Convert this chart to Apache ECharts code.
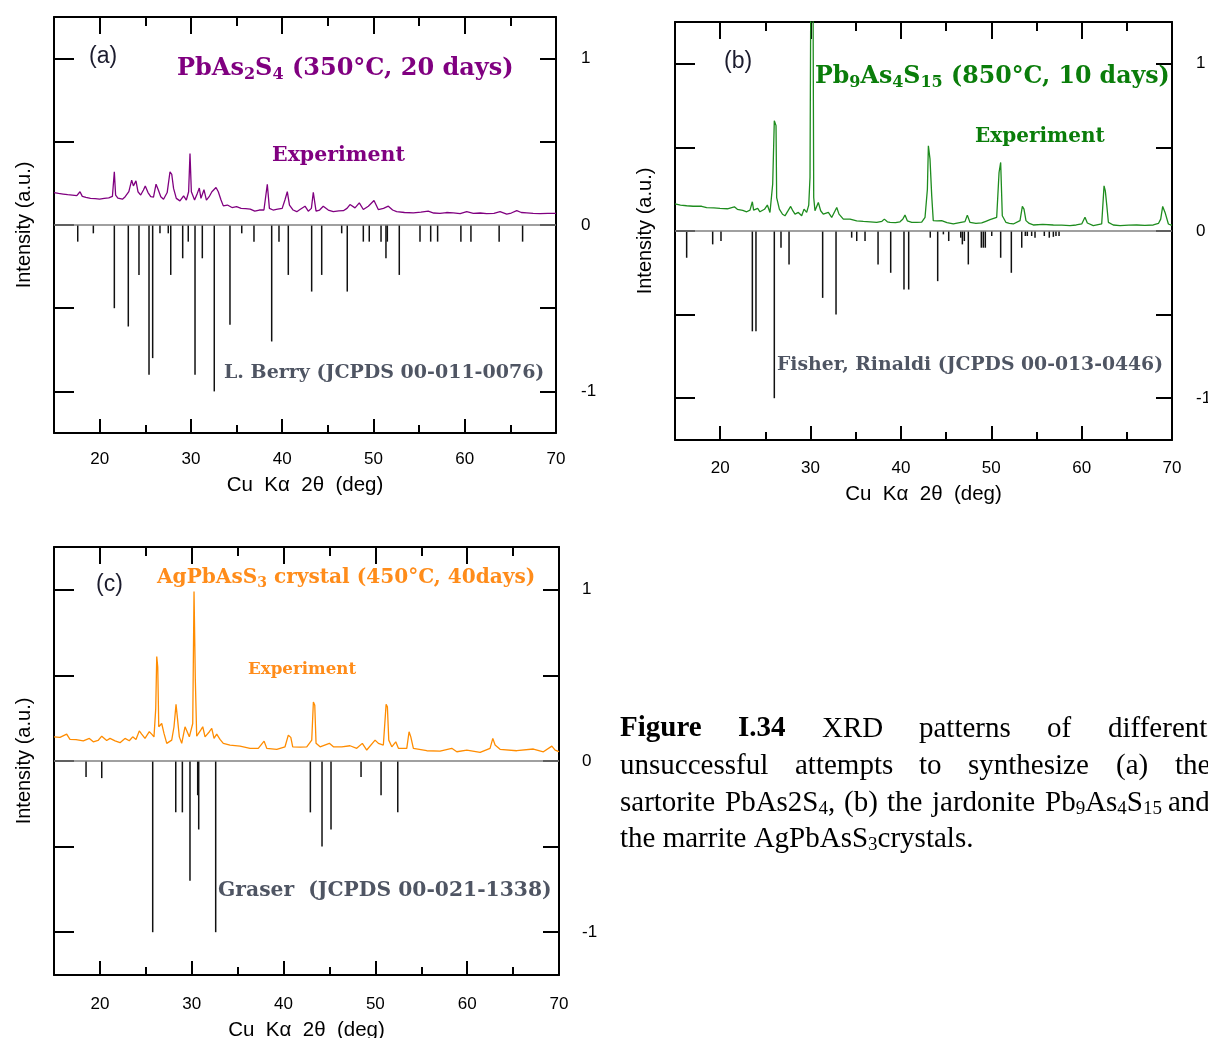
<!DOCTYPE html>
<html><head><meta charset="utf-8">
<script src="https://cdn.jsdelivr.net/npm/echarts@6/dist/echarts.min.js"></script>
<style>html,body{margin:0;padding:0;background:#fff}#c{width:1208px;height:1038px}</style>
</head><body><div id="c"></div>
<script>
// ---------- tick values ----------
const xMajorTicks = [20, 30, 40, 50, 60, 70];
const xMinorTicks = [25, 35, 45, 55, 65];
const yTicks = [-1, -0.5, 0, 0.5, 1];
const yTickLabels = [-1, 0, 1];

// ---------- panel (a) PbAs2S4 ----------
const aExpX = [15.0,15.5,16.0,16.5,17.0,17.5,17.85,18.1,18.5,19.0,19.5,20.0,20.5,21.0,21.4,21.61,21.75,22.0,22.5,22.8,23.2,23.51,23.7,23.98,24.2,24.5,24.8,25.0,25.3,25.6,25.9,26.18,26.4,26.7,27.0,27.4,27.71,27.9,28.1,28.4,28.8,29.2,29.5,29.75,29.9,30.05,30.4,30.7,30.92,31.1,31.43,31.7,32.0,32.3,32.75,33.0,33.3,33.55,34.0,34.5,35.0,35.5,36.0,36.5,37.0,37.5,38.0,38.37,38.6,39.0,39.5,40.0,40.3,40.56,40.8,41.2,41.6,41.95,42.5,42.86,43.2,43.41,43.71,44.1,44.5,45.05,45.6,46.2,46.7,47.1,47.43,47.98,48.45,48.89,49.44,50.06,50.53,51.1,51.63,52.1,52.54,53.4,54.37,55.2,56.0,56.6,57.29,58.0,58.75,59.5,60.22,60.94,61.7,62.4,63.2,63.87,64.6,65.1,65.7,66.2,66.8,67.5,68.25,69.1,70.0];
const aExpY = [0.195,0.19,0.186,0.182,0.18,0.176,0.2,0.172,0.166,0.16,0.158,0.155,0.16,0.163,0.172,0.32,0.18,0.162,0.155,0.17,0.2,0.27,0.235,0.265,0.2,0.18,0.21,0.235,0.195,0.17,0.168,0.245,0.215,0.17,0.155,0.195,0.32,0.305,0.22,0.16,0.145,0.175,0.15,0.2,0.43,0.2,0.15,0.19,0.222,0.16,0.212,0.15,0.17,0.2,0.225,0.2,0.15,0.115,0.12,0.105,0.11,0.1,0.098,0.095,0.083,0.09,0.09,0.245,0.1,0.09,0.095,0.1,0.15,0.2,0.12,0.09,0.08,0.093,0.113,0.083,0.1,0.197,0.083,0.09,0.113,0.09,0.08,0.085,0.086,0.1,0.123,0.103,0.133,0.093,0.113,0.147,0.093,0.1,0.113,0.09,0.08,0.075,0.073,0.077,0.083,0.072,0.07,0.075,0.073,0.068,0.08,0.07,0.072,0.068,0.07,0.08,0.065,0.072,0.086,0.075,0.073,0.07,0.068,0.07,0.07];
const aRefX = [17.60,19.31,21.61,23.14,24.31,25.41,25.81,26.61,27.52,27.79,29.10,29.71,30.45,31.25,32.56,34.28,35.57,36.91,38.85,39.65,40.67,43.23,44.33,46.52,47.13,48.89,49.54,50.83,51.37,51.52,52.83,55.10,56.27,57.03,59.58,60.68,63.77,66.34];
const aRefY = [-0.10,-0.05,-0.50,-0.61,-0.30,-0.90,-0.80,-0.05,-0.05,-0.30,-0.20,-0.10,-0.90,-0.20,-1.00,-0.60,-0.05,-0.10,-0.70,-0.10,-0.30,-0.40,-0.30,-0.05,-0.40,-0.10,-0.10,-0.10,-0.20,-0.10,-0.30,-0.10,-0.10,-0.10,-0.10,-0.10,-0.10,-0.10];

// ---------- panel (b) Pb9As4S15 ----------
const bExpX = [15.0,15.19,15.6,16.29,17.0,17.95,18.5,19.3,19.98,20.8,21.57,21.9,22.5,22.93,23.3,23.56,23.7,23.85,24.15,24.4,24.59,24.9,25.22,25.51,25.81,25.99,26.18,26.25,26.55,26.9,27.17,27.5,27.8,28.05,28.28,28.65,29.02,29.28,29.57,29.8,29.94,30.02,30.28,30.35,30.49,30.86,31.12,31.41,31.97,32.34,32.9,33.15,33.63,34.37,35.11,35.84,36.6,37.32,37.9,38.17,38.5,38.8,39.4,39.9,40.2,40.45,40.71,41.2,41.75,42.3,42.67,42.93,43.04,43.22,43.41,43.58,44.0,44.51,45.1,45.8,46.5,47.09,47.35,47.65,48.3,48.94,49.4,49.86,50.6,50.86,51.04,51.22,51.63,52.0,52.44,53.18,53.44,53.62,53.84,54.2,54.65,55.7,56.87,57.8,58.71,59.4,60.01,60.37,60.63,61.29,62.22,62.48,62.62,62.78,62.96,63.5,64.25,65.2,66.1,67.0,67.93,68.5,68.75,68.97,69.23,69.6,69.86,70.0];
const bExpY = [0.162,0.161,0.155,0.151,0.148,0.148,0.14,0.138,0.135,0.133,0.145,0.13,0.123,0.115,0.125,0.175,0.125,0.121,0.135,0.115,0.111,0.13,0.155,0.111,0.28,0.66,0.63,0.2,0.131,0.1,0.091,0.12,0.147,0.12,0.101,0.111,0.091,0.131,0.111,0.155,0.32,1.35,1.35,0.2,0.121,0.171,0.121,0.101,0.111,0.081,0.141,0.101,0.071,0.071,0.061,0.057,0.055,0.051,0.058,0.071,0.055,0.051,0.05,0.055,0.07,0.095,0.061,0.052,0.051,0.053,0.082,0.25,0.51,0.43,0.21,0.062,0.06,0.062,0.05,0.042,0.05,0.056,0.095,0.051,0.045,0.048,0.058,0.068,0.082,0.35,0.41,0.091,0.051,0.045,0.042,0.062,0.147,0.131,0.062,0.045,0.036,0.04,0.036,0.035,0.032,0.036,0.042,0.082,0.048,0.032,0.042,0.27,0.24,0.155,0.052,0.036,0.032,0.035,0.036,0.034,0.036,0.045,0.071,0.147,0.111,0.042,0.036,0.036];
const bRefX = [16.29,19.17,20.09,23.56,23.96,25.99,26.73,27.62,31.34,32.82,34.55,35.11,36.03,37.47,38.87,40.34,40.86,43.25,44.07,44.70,45.29,46.62,46.80,47.02,47.46,48.90,49.12,49.34,50.05,51.04,52.22,53.37,53.77,53.99,54.47,54.84,55.87,56.42,56.87,57.16,57.50];
const bRefY = [-0.16,-0.08,-0.06,-0.60,-0.60,-1.00,-0.10,-0.20,-0.40,-0.50,-0.04,-0.06,-0.06,-0.20,-0.25,-0.35,-0.35,-0.04,-0.30,-0.02,-0.06,-0.04,-0.08,-0.06,-0.20,-0.10,-0.10,-0.10,-0.03,-0.16,-0.25,-0.10,-0.03,-0.03,-0.03,-0.04,-0.03,-0.04,-0.035,-0.03,-0.03];

// ---------- panel (c) AgPbAsS3 ----------
const cExpX = [15.0,15.65,16.38,16.74,17.4,18.19,18.85,19.28,19.8,20.2,20.74,21.1,21.65,22.19,22.73,23.2,23.57,23.93,24.29,24.55,24.91,25.38,25.64,25.89,26.08,26.19,26.3,26.41,26.73,26.98,27.28,27.82,28.07,28.29,28.43,28.65,28.91,29.27,29.46,29.74,30.11,30.25,30.39,30.54,30.98,31.2,31.45,31.92,32.18,32.43,32.72,33.08,33.44,34.17,35.26,36.35,37.25,37.88,38.17,39.26,40.16,40.52,40.79,41.0,41.8,42.53,43.07,43.25,43.4,43.54,43.98,44.99,45.43,46.34,47.24,47.97,48.58,49.06,49.97,50.33,50.87,51.17,51.31,51.46,51.79,52.22,52.51,53.42,53.67,53.86,54.14,55.6,57.05,58.32,58.87,59.96,61.41,62.49,62.79,63.04,63.58,65.4,67.21,68.3,69.22,69.58,70.0];
const cExpY = [0.141,0.138,0.157,0.126,0.125,0.118,0.132,0.112,0.12,0.145,0.12,0.132,0.118,0.107,0.132,0.118,0.141,0.126,0.176,0.157,0.132,0.171,0.157,0.141,0.306,0.61,0.548,0.2,0.219,0.161,0.103,0.122,0.2,0.331,0.258,0.141,0.103,0.2,0.209,0.141,0.219,0.99,0.48,0.145,0.18,0.2,0.141,0.171,0.19,0.132,0.157,0.126,0.103,0.093,0.087,0.074,0.074,0.116,0.074,0.068,0.083,0.151,0.138,0.083,0.081,0.083,0.122,0.345,0.326,0.103,0.083,0.103,0.083,0.083,0.089,0.074,0.103,0.064,0.122,0.103,0.093,0.331,0.316,0.122,0.083,0.112,0.074,0.074,0.171,0.141,0.074,0.06,0.058,0.074,0.054,0.064,0.05,0.074,0.132,0.093,0.068,0.06,0.07,0.054,0.087,0.064,0.055];
const cRefX = [18.49,20.20,25.75,28.26,28.98,29.81,30.65,30.76,32.61,42.92,44.19,45.17,48.44,50.62,52.44];
const cRefY = [-0.094,-0.10,-1.00,-0.30,-0.30,-0.70,-0.20,-0.40,-1.00,-0.30,-0.50,-0.40,-0.094,-0.20,-0.30];

// ---------- build ----------
function zip(xs, ys) { return xs.map((x, i) => [x, ys[i]]); }
const panels = [
  {exp: zip(aExpX, aExpY), ref: zip(aRefX, aRefY), color: '#800080', grid: {left: 54, top: 17, width: 502, height: 416}, rMargin: 25, lMargin: 18, nGap: 42},
  {exp: zip(bExpX, bExpY), ref: zip(bRefX, bRefY), color: '#1e8c1e', grid: {left: 675, top: 22, width: 497, height: 418}, rMargin: 24, lMargin: 20, nGap: 44},
  {exp: zip(cExpX, cExpY), ref: zip(cRefX, cRefY), color: '#ff8c00', grid: {left: 54, top: 547, width: 505, height: 428}, rMargin: 23, lMargin: 21, nGap: 45}
];
const black = {color: '#000', width: 2};
const sans = 'Liberation Sans';
const xAxis = [], yAxis = [], grid = [], series = [];
panels.forEach((p, i) => {
  grid.push(Object.assign({outerBoundsMode: 'none', containLabel: false}, p.grid));
  const base = {gridIndex: i, type: 'value', min: 15, max: 70, interval: 5, splitLine: {show: false}};
  xAxis.push(Object.assign({}, base, {position: 'bottom',
    axisLine: {onZero: false, lineStyle: black},
    axisTick: {inside: true, length: 14, customValues: xMajorTicks, lineStyle: black},
    axisLabel: {customValues: xMajorTicks, margin: p.lMargin, fontSize: 17, color: '#000', fontFamily: sans},
    name: 'Cu  K\u03b1  2\u03b8  (deg)', nameLocation: 'middle', nameGap: p.nGap,
    nameTextStyle: {fontSize: 20.5, color: '#000', fontFamily: sans}}));
  xAxis.push(Object.assign({}, base, {position: 'bottom',
    axisLine: {show: false, onZero: false},
    axisTick: {inside: true, length: 8, customValues: xMinorTicks, lineStyle: black},
    axisLabel: {show: false}}));
  xAxis.push(Object.assign({}, base, {position: 'top',
    axisLine: {onZero: false, lineStyle: black},
    axisTick: {inside: true, length: 17, customValues: xMajorTicks, lineStyle: black},
    axisLabel: {show: false}}));
  xAxis.push(Object.assign({}, base, {position: 'top',
    axisLine: {show: false, onZero: false},
    axisTick: {inside: true, length: 9, customValues: xMinorTicks, lineStyle: black},
    axisLabel: {show: false}}));
  const ybase = {gridIndex: i, type: 'value', min: -1.25, max: 1.25, interval: 0.25, splitLine: {show: false}};
  yAxis.push(Object.assign({}, ybase, {position: 'left',
    axisLine: {show: true, onZero: false, lineStyle: black},
    axisTick: {inside: true, length: 20, customValues: yTicks, lineStyle: black},
    axisLabel: {show: false},
    name: 'Intensity (a.u.)', nameLocation: 'middle', nameRotate: 90, nameGap: 20,
    nameTextStyle: {fontSize: 20, color: '#000', fontFamily: sans}}));
  yAxis.push(Object.assign({}, ybase, {position: 'right',
    axisLine: {show: true, onZero: false, lineStyle: black},
    axisTick: {inside: true, length: 16, customValues: yTicks, lineStyle: black},
    axisLabel: {customValues: yTickLabels, margin: p.rMargin, fontSize: 17, color: '#000', fontFamily: sans}}));
  series.push({
    type: 'custom', xAxisIndex: 4 * i, yAxisIndex: 2 * i, data: p.ref, encode: {x: 0, y: 1},
    renderItem: function (params, api) {
      const p0 = api.coord([api.value(0), 0]);
      const p1 = api.coord([api.value(0), api.value(1)]);
      return {type: 'line', shape: {x1: p0[0], y1: p0[1], x2: p1[0], y2: p1[1]}, style: {stroke: '#111', lineWidth: 1.5}};
    },
    silent: true, z: 2
  });
  series.push({
    type: 'line', xAxisIndex: 4 * i, yAxisIndex: 2 * i, data: p.exp, showSymbol: false, symbol: 'none',
    lineStyle: {color: p.color, width: 1.3}, clip: true, z: 3, silent: true,
    markLine: {silent: true, symbol: 'none', label: {show: false}, lineStyle: {color: '#808080', width: 1.5, type: 'solid'}, data: [{yAxis: 0}]}
  });
});

function txt(x, y, text, size, family, weight, fill, rich) {
  const st = {text: text, fontSize: size, fontFamily: family, fontWeight: weight, fill: fill, align: 'left', verticalAlign: 'middle'};
  if (rich) st.rich = rich;
  return {type: 'text', x: x, y: y, style: st, z: 10, silent: true};
}
function subRich(size, family, weight, fill, pad) {
  return {s: {fontSize: size, fontFamily: family, fontWeight: weight, fill: fill, verticalAlign: 'bottom', padding: [pad, 0, 0, 0]}};
}
const serif = 'DejaVu Serif';
const refGray = '#4f5563';
const cap = 'Liberation Serif';
const capRich = subRich(19, cap, 'normal', '#000', 12);
const graphic = [
  txt(89, 57, '(a)', 23, sans, 'normal', '#1c1c2e'),
  txt(177, 69, 'PbAs{s|2}S{s|4} (350\u00b0C, 20 days)', 24, serif, 'bold', '#800080', subRich(16, serif, 'bold', '#800080', 11)),
  txt(272, 156, 'Experiment', 20.5, serif, 'bold', '#800080'),
  txt(224, 373, 'L. Berry (JCPDS 00-011-0076)', 19, serif, 'bold', refGray),
  txt(724, 62, '(b)', 23, sans, 'normal', '#1c1c2e'),
  txt(815, 77, 'Pb{s|9}As{s|4}S{s|15} (850\u00b0C, 10 days)', 23.7, serif, 'bold', '#0a7d0a', subRich(16, serif, 'bold', '#0a7d0a', 11)),
  txt(975, 137, 'Experiment', 20, serif, 'bold', '#0a7d0a'),
  txt(777, 365, 'Fisher, Rinaldi (JCPDS 00-013-0446)', 18.8, serif, 'bold', refGray),
  txt(96, 585, '(c)', 23, sans, 'normal', '#1c1c2e'),
  txt(157, 578, 'AgPbAsS{s|3} crystal (450\u00b0C, 40days)', 20.1, serif, 'bold', '#ff8c1a', subRich(14, serif, 'bold', '#ff8c1a', 10)),
  txt(248, 670, 'Experiment', 16.7, serif, 'bold', '#ff8c1a'),
  txt(218, 891, 'Graser  (JCPDS 00-021-1338)', 20.3, serif, 'bold', refGray),
  // caption
  txt(620, 729, 'Figure', 29, cap, 'bold', '#000'),
  txt(738, 729, 'I.34', 29, cap, 'bold', '#000'),
  txt(822, 729, 'XRD', 29, cap, 'normal', '#000'),
  txt(919, 729, 'patterns', 29, cap, 'normal', '#000'),
  txt(1047, 729, 'of', 29, cap, 'normal', '#000'),
  txt(1108, 729, 'different', 29, cap, 'normal', '#000'),
  txt(620, 766, 'unsuccessful', 29, cap, 'normal', '#000'),
  txt(795, 766, 'attempts', 29, cap, 'normal', '#000'),
  txt(919, 766, 'to', 29, cap, 'normal', '#000'),
  txt(968, 766, 'synthesize', 29, cap, 'normal', '#000'),
  txt(1116, 766, '(a)', 29, cap, 'normal', '#000'),
  txt(1175, 766, 'the', 29, cap, 'normal', '#000'),
  txt(620, 803, 'sartorite', 29, cap, 'normal', '#000'),
  txt(725, 803, 'PbAs2S{s|4},', 29, cap, 'normal', '#000', capRich),
  txt(844, 803, '(b)', 29, cap, 'normal', '#000'),
  txt(887, 803, 'the', 29, cap, 'normal', '#000'),
  txt(932, 803, 'jardonite', 29, cap, 'normal', '#000'),
  txt(1045, 803, 'Pb{s|9}As{s|4}S{s|15}', 29, cap, 'normal', '#000', capRich),
  txt(1168, 803, 'and', 29, cap, 'normal', '#000'),
  txt(620, 839, 'the marrite AgPbAsS{s|3}crystals.', 29, cap, 'normal', '#000', capRich)
];

const chart = echarts.init(document.getElementById('c'), null, {renderer: 'canvas'});
chart.setOption({
  animation: false,
  backgroundColor: '#fff',
  grid: grid, xAxis: xAxis, yAxis: yAxis, series: series, graphic: graphic
});
</script>
</body></html>
